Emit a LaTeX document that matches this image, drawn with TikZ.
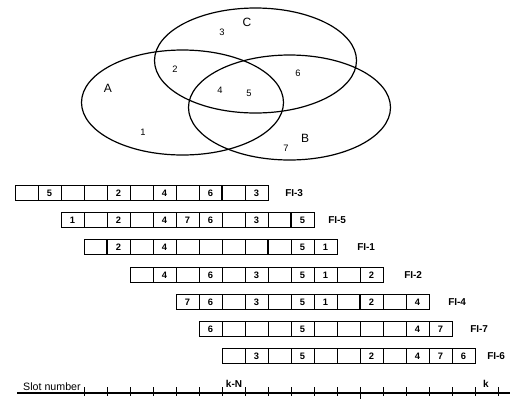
\documentclass[tikz,border=0pt]{standalone}
\usepackage{fontspec}
\setmainfont{Liberation Sans}
\usetikzlibrary{shapes.geometric}
\newcommand{\FIrow}[4]{%
  \foreach \v [count=\i from 0] in {#4} {%
    \pgfmathtruncatemacro\cc{#3+\i}%
    \node[cell] (#1c\cc) at ({26.5+23*\cc},#2) {\v};
  }%
}
\begin{document}
\begin{tikzpicture}[x=0.75pt,y=-0.75pt,
  venn/.style={draw, ellipse, line width=0.9pt, minimum width=151.5pt, minimum height=78.75pt, inner sep=0pt},
  setname/.style={font=\fontsize{9}{10}\selectfont, inner sep=0pt},
  region/.style={font=\fontsize{7}{8}\selectfont, inner sep=0pt},
  cell/.style={draw, line width=0.6pt, minimum width=17.25pt, minimum height=11.25pt, inner sep=0pt, font=\fontsize{7}{8}\selectfont\bfseries},
  sepline/.style={line width=1.5pt},
  filabel/.style={anchor=west, inner sep=0pt, font=\fontsize{7.5}{8}\selectfont\bfseries},
  tickline/.style={line width=0.7pt},
  axislabel/.style={inner sep=0pt, font=\fontsize{8}{9}\selectfont},
  slotlabel/.style={inner sep=0pt, anchor=base, font=\fontsize{7.5}{8}\selectfont\bfseries}]
\useasboundingbox (0,0) rectangle (513,401);

% Venn diagram
\node[venn] (A) at (182.5,102.5) {};
\node[venn] (C) at (255.5,60.5) {};
\node[venn] (B) at (289.5,107.5) {};
\node[setname] (lA) at (108,88) {A};
\node[setname] (lC) at (247,22) {C};
\node[setname] (lB) at (305,138) {B};
\node[region] (r1) at (143,132) {1};
\node[region] (r2) at (175,69) {2};
\node[region] (r3) at (222,32) {3};
\node[region] (r4) at (220,90) {4};
\node[region] (r5) at (249,93) {5};
\node[region] (r6) at (298,73) {6};
\node[region] (r7) at (286,148) {7};

% Frames
\FIrow{a}{193}{0}{{},5,{},{},2,{},4,{},6,{},3}
\FIrow{b}{220}{2}{1,{},2,{},4,7,6,{},3,{},5}
\FIrow{c}{247}{3}{{},2,{},4,{},{},{},{},{},5,1}
\FIrow{d}{275}{5}{{},4,{},6,{},3,{},5,1,{},2}
\FIrow{e}{302}{7}{7,6,{},3,{},5,1,{},2,{},4}
\FIrow{f}{329}{8}{6,{},{},{},5,{},{},{},{},4,7}
\FIrow{g}{356}{9}{{},3,{},5,{},{},2,{},4,7,6}

\draw[line width=1.1pt] (ac9.north west) -- (ac9.south west);
\draw[sepline] (bc12.north west) -- (bc12.south west);
\draw[sepline] (cc4.north west) -- (cc4.south west);
\draw[sepline] (cc11.north west) -- (cc11.south west);
\draw[sepline] (ec15.north west) -- (ec15.south west);

\node[filabel] (fi3) at (285,193) {FI-3};
\node[filabel] (fi5) at (328,220) {FI-5};
\node[filabel] (fi1) at (357,247) {FI-1};
\node[filabel] (fi2) at (404,275) {FI-2};
\node[filabel] (fi4) at (448,302) {FI-4};
\node[filabel] (fi7) at (470,329) {FI-7};
\node[filabel] (fi6) at (487,356) {FI-6};

% Slot axis
\coordinate (axL) at (17,393);
\coordinate (axR) at (510,393);
\draw[line width=0.8pt] (axL) -- (axR);
\foreach \j in {3,...,21} {
  \draw[tickline] ({15+23*\j},387) -- ({15+23*\j},396);
}
\draw[tickline] (360,396) -- (360,399);
\node[axislabel, anchor=base east] (slot) at (81,390) {Slot number};
\node[slotlabel] (kN) at (234,387) {k-N};
\node[slotlabel] (k) at (486,387) {k};
\end{tikzpicture}
\end{document}
